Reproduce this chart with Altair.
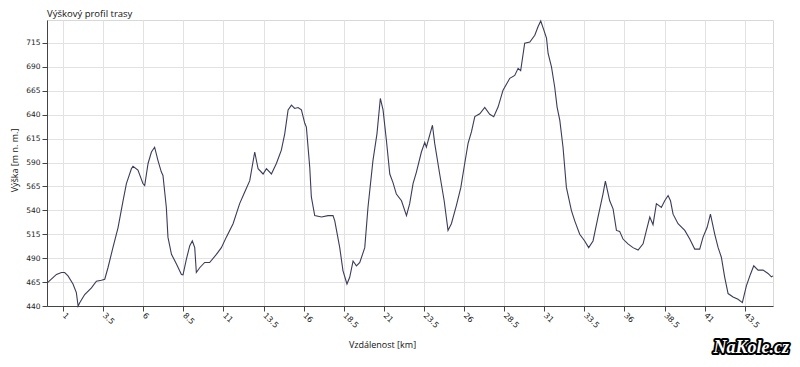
import altair as alt
import pandas as pd

km = [0.0, 0.27, 0.59, 0.9, 1.1, 1.31, 1.62, 1.83, 1.94, 2.04, 2.35, 2.77, 3.08, 3.39, 3.6, 3.8,
      4.11, 4.43, 4.74, 4.95, 5.26, 5.36, 5.67, 5.98, 6.09, 6.3, 6.51, 6.71, 6.92, 7.13, 7.23,
      7.44, 7.54, 7.76, 8.07, 8.38, 8.48, 8.69, 8.9, 9.06, 9.21, 9.31, 9.52, 9.83, 10.14, 10.56,
      10.87, 11.18, 11.6, 12.01, 12.32, 12.64, 12.95, 13.16, 13.47, 13.68, 13.99, 14.3, 14.61,
      14.82, 15.03, 15.24, 15.44, 15.65, 15.86, 16.07, 16.17, 16.38, 16.48, 16.69, 17.11, 17.52,
      17.83, 17.94, 18.25, 18.45, 18.7, 18.87, 19.08, 19.29, 19.5, 19.81, 20.01, 20.32, 20.57,
      20.78, 20.95, 21.16, 21.37, 21.57, 21.78, 22.1, 22.41, 22.61, 22.82, 23.03, 23.34, 23.55,
      23.65, 24.03, 24.17, 24.48, 24.76, 25.0, 25.21, 25.52, 25.8, 26.04, 26.25, 26.46, 26.67,
      26.98, 27.29, 27.6, 27.85, 28.12, 28.43, 28.85, 29.16, 29.37, 29.53, 29.78, 30.1, 30.41,
      30.61, 30.78, 30.97, 31.14, 31.24, 31.45, 31.65, 31.8, 31.97, 32.17, 32.38, 32.69, 32.9,
      33.21, 33.52, 33.77, 34.04, 34.35, 34.66, 34.81, 35.08, 35.29, 35.5, 35.7, 35.91, 36.22,
      36.53, 36.85, 37.16, 37.37, 37.58, 37.78, 37.99, 38.3, 38.51, 38.72, 38.87, 39.03, 39.34,
      39.76, 40.07, 40.38, 40.69, 40.9, 41.15, 41.36, 41.63, 41.84, 42.04, 42.25, 42.46, 42.77,
      43.08, 43.35, 43.6, 43.85, 44.06, 44.33, 44.64, 44.95, 45.16, 45.26]

elev = [464, 468, 473, 475, 475, 471.5, 463, 454, 440, 443.5, 452, 459, 466, 467, 468, 480,
        501, 522, 550, 568, 583.5, 586, 582, 568, 566, 589, 601, 606, 592, 580, 576.5,
        543, 512, 494, 484, 473, 472.5, 489, 503, 508, 501, 475, 480, 485.5, 485.5, 494,
        501, 512, 526, 547, 559, 571, 601, 583.5, 578, 583.5, 578, 589, 603,
        620, 645, 650, 646.5, 647.5, 645, 631, 627, 585, 554, 534.5, 533, 534.5,
        534.5, 529, 501, 477, 463, 470, 487, 482, 485.5, 501, 543, 592, 620,
        657, 645, 613, 578, 569, 557, 550, 534.5, 547, 568, 580, 601, 611,
        606, 629, 610, 578, 550, 519, 526, 545, 564, 589, 610, 622, 638,
        641, 647.5, 640.5, 638, 648, 665.7, 678, 681, 688.5, 686, 714.7, 716, 723,
        732, 738, 728.6, 720, 704, 690, 669, 648, 634, 606, 564, 540, 529,
        515, 508, 501, 508, 533, 557, 570.5, 550, 541.5, 519, 518, 510, 505,
        501, 498.5, 505, 519, 533, 525, 547, 543, 550, 555.5, 550, 536, 526,
        519, 510, 499.5, 499.5, 512, 522, 536, 515, 501, 491, 470, 453, 449.5,
        447, 443.5, 461, 473, 482, 477.5, 477.5, 474, 470.5, 471.5]

x_ticks = [1, 3.5, 6, 8.5, 11, 13.5, 16, 18.5, 21, 23.5, 26, 28.5, 31, 33.5, 36, 38.5, 41, 43.5]
y_ticks = [440, 465, 490, 515, 540, 565, 590, 615, 640, 665, 690, 715]

chart_title = ["Výškový profil trasy"]
watermark = ["NaKole.cz"]

df = pd.DataFrame({"km": km, "elev": elev})

W, H = 726, 286

line = alt.Chart(df).mark_line(color="#3b3b5c", strokeWidth=1.1).encode(
    x=alt.X("km:Q", scale=alt.Scale(domain=[0, 45.26], nice=False, zero=False),
            axis=alt.Axis(values=x_ticks, format=".1~f", title="Vzdálenost [km]", labelAngle=45,
                          labelAlign="left", labelBaseline="middle", labelPadding=3,
                          labelFontSize=8, labelFont="DejaVu Sans", labelColor="#222",
                          titleFont="Open Sans", titleFontSize=9, titleFontWeight="normal",
                          titleColor="#111", titleX=335, titleY=38, titleBaseline="middle",
                          titleAnchor="start", titleAlign="center",
                          tickSize=5, labelFlush=False, labelOverlap=False)),
    y=alt.Y("elev:Q", scale=alt.Scale(domain=[440, 739], nice=False, zero=False),
            axis=alt.Axis(values=y_ticks, format="d", title="Výška [m n. m.]", labelPadding=2,
                          labelFontSize=7.5, labelFont="DejaVu Sans", labelColor="#222",
                          titleFont="Open Sans", titleFontSize=9, titleFontWeight="normal",
                          titleColor="#111", titleX=-33, titleY=140, titleAngle=-90,
                          titleAlign="center", titleBaseline="middle",
                          tickSize=5, labelFlush=False, labelOverlap=False)),
)

title_df = pd.DataFrame({"t": chart_title})
title_txt = alt.Chart(title_df).mark_text(
    align="left", baseline="top", font="Open Sans", fontSize=9.5, color="#111"
).encode(x=alt.value(0), y=alt.value(-11.5), text="t:N")

wm_df = pd.DataFrame({"t": watermark})
wm_back = alt.Chart(wm_df).mark_text(
    align="right", baseline="alphabetic", font="Liberation Sans Narrow", fontSize=18,
    fontWeight="bold", fontStyle="italic", color="#000", stroke="#000", strokeWidth=4,
    strokeJoin="round"
).encode(x=alt.value(742), y=alt.value(333), text="t:N")
wm_front = alt.Chart(wm_df).mark_text(
    align="right", baseline="alphabetic", font="Liberation Sans Narrow", fontSize=18,
    fontWeight="bold", fontStyle="italic", color="#ffffff"
).encode(x=alt.value(742), y=alt.value(333), text="t:N")

chart = alt.layer(line, title_txt, wm_back, wm_front).properties(
    width=W, height=H,
    autosize=alt.AutoSizeParams(type="none"),
    padding={"left": 39, "top": 12, "right": 19, "bottom": 53},
    background="white",
).configure_view(stroke="#d8d8d8", strokeWidth=1).configure_axis(
    gridColor="#e2e2e2", gridWidth=1, domainColor="#444", tickColor="#444", domainWidth=1
)

chart.save("out.html", embed_options={"renderer": "svg", "actions": False})
